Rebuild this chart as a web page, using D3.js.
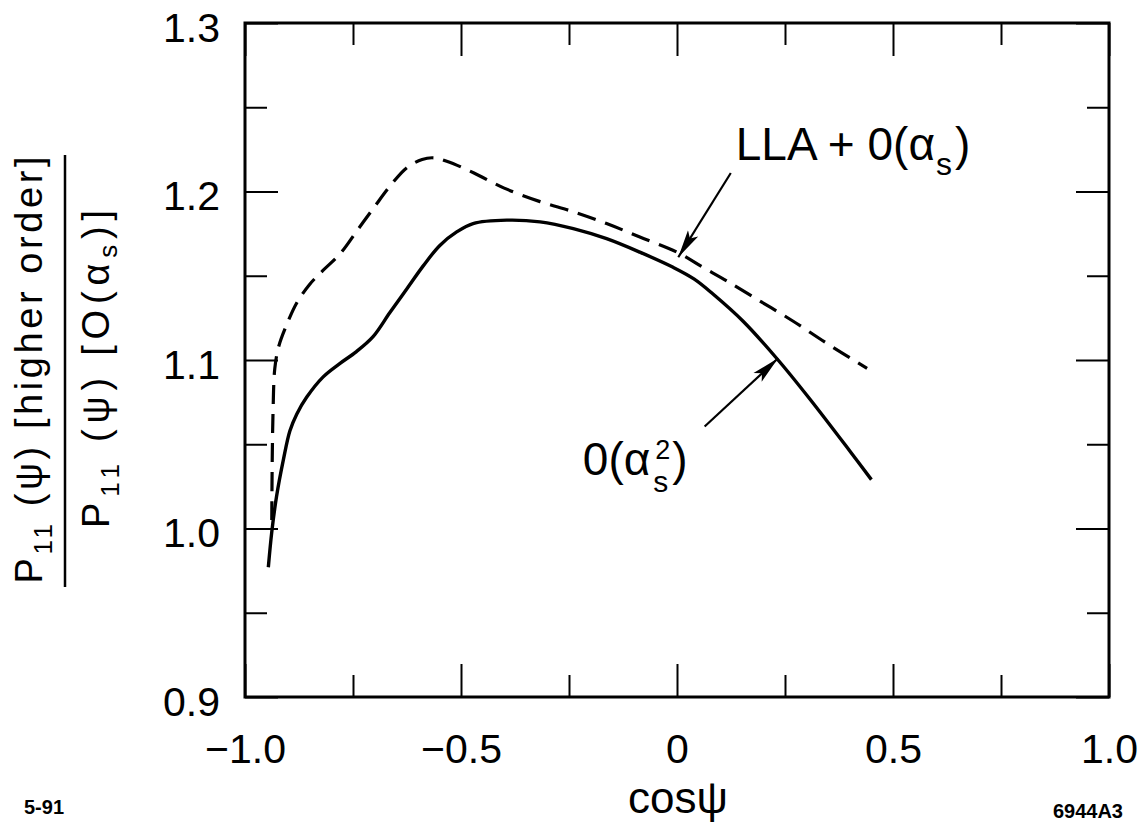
<!doctype html>
<html lang="en">
<head>
  <meta charset="utf-8">
  <title>P11 ratio vs cos psi</title>
  <style>
    body { margin: 0; background: #fff; }
    svg { display: block; font-family: "Liberation Sans", Arial, Helvetica, sans-serif; }
    .tick line { stroke: #000; stroke-width: 2px; }
    .tick text { font-size: 41px; fill: #000; }
    .domain { display: none; }
  </style>
</head>
<body>
<svg id="chart" width="1138" height="829"></svg>
<script src="https://d3js.org/d3.v7.min.js"></script>
<script>
// ---- data (cosψ, ratio) ----
const xMajorTicks = [-1, -0.5, 0, 0.5, 1];
const xMinorTicks = [-0.75, -0.25, 0.25, 0.75];
const yMajorTicks = [0.9, 1.0, 1.1, 1.2, 1.3];
const yMinorTicks = [0.95, 1.05, 1.15, 1.25];

// LLA + O(alpha_s), dashed
const llaX = [-0.938, -0.937, -0.935, -0.931, -0.922, -0.905, -0.88, -0.85, -0.82, -0.78,
  -0.74, -0.70, -0.665, -0.626, -0.59, -0.564, -0.533, -0.47, -0.40, -0.317,
  -0.24, -0.163, -0.086, 0.0, 0.06, 0.115, 0.192, 0.269, 0.346, 0.44];
const llaY = [1.005, 1.04, 1.07, 1.095, 1.108, 1.12, 1.134, 1.145, 1.153, 1.163,
  1.177, 1.191, 1.203, 1.214, 1.219, 1.220, 1.218, 1.211, 1.202, 1.194,
  1.188, 1.181, 1.173, 1.164, 1.155, 1.147, 1.135, 1.123, 1.110, 1.095];

// O(alpha_s^2), solid
const o2X = [-0.946, -0.938, -0.927, -0.911, -0.896, -0.88, -0.857, -0.819, -0.78, -0.742,
  -0.703, -0.665, -0.626, -0.587, -0.549, -0.51, -0.472, -0.394, -0.317, -0.24,
  -0.163, -0.086, -0.009, 0.04, 0.084, 0.153, 0.234, 0.307, 0.40, 0.45];
const o2Y = [0.977, 0.998, 1.019, 1.041, 1.058, 1.068, 1.078, 1.090, 1.098, 1.105,
  1.114, 1.128, 1.142, 1.156, 1.168, 1.176, 1.181, 1.183, 1.182, 1.178,
  1.172, 1.164, 1.155, 1.148, 1.139, 1.123, 1.100, 1.077, 1.046, 1.029];

// annotation arrows: [x0, y0, x1(tip), y1(tip)] in data units
const llaArrow = [0.1245, 1.211, 0.003, 1.161];
const o2Arrow = [0.064, 1.0605, 0.234, 1.101];
const llaLabelAt = [0.136, 1.2186];
const o2LabelAt = [-0.218, 1.032];

// ---- layout ----
const margin = { left: 245, top: 23, right: 29, bottom: 132 };
const W = 1138, H = 829;
const svg = d3.select("#chart");

const x = d3.scaleLinear().domain([-1, 1]).range([margin.left, W - margin.right]);
const y = d3.scaleLinear().domain([0.9, 1.3]).range([H - margin.bottom, margin.top]);

const fmtX = d => d === 0 ? "0" : d3.format(".1f")(d);
const fmtY = d3.format(".1f");

// ticks (all pointing inward)
const plotBottom = H - margin.bottom, plotTop = margin.top;
const plotLeft = margin.left, plotRight = W - margin.right;

svg.append("g").attr("transform", `translate(0,${plotBottom})`)
  .call(d3.axisBottom(x).tickValues(xMajorTicks).tickSize(-33).tickSizeOuter(0).tickPadding(37).tickFormat(fmtX));
svg.append("g").attr("transform", `translate(0,${plotBottom})`)
  .call(d3.axisBottom(x).tickValues(xMinorTicks).tickSize(-22).tickSizeOuter(0).tickFormat(""));
svg.append("g").attr("transform", `translate(0,${plotTop})`)
  .call(d3.axisTop(x).tickValues(xMajorTicks).tickSize(-33).tickSizeOuter(0).tickFormat(""));
svg.append("g").attr("transform", `translate(0,${plotTop})`)
  .call(d3.axisTop(x).tickValues(xMinorTicks).tickSize(-22).tickSizeOuter(0).tickFormat(""));

const yl = svg.append("g").attr("transform", `translate(${plotLeft},0)`)
  .call(d3.axisLeft(y).tickValues(yMajorTicks).tickSize(-33).tickSizeOuter(0).tickPadding(25).tickFormat(fmtY));
yl.selectAll(".tick text").attr("dy", "0.45em");
svg.append("g").attr("transform", `translate(${plotLeft},0)`)
  .call(d3.axisLeft(y).tickValues(yMinorTicks).tickSize(-22).tickSizeOuter(0).tickFormat(""));
svg.append("g").attr("transform", `translate(${plotRight},0)`)
  .call(d3.axisRight(y).tickValues(yMajorTicks).tickSize(-33).tickSizeOuter(0).tickFormat(""));
svg.append("g").attr("transform", `translate(${plotRight},0)`)
  .call(d3.axisRight(y).tickValues(yMinorTicks).tickSize(-22).tickSizeOuter(0).tickFormat(""));

svg.selectAll("g").attr("font-family", null).attr("font-size", null);

// frame
svg.append("rect")
  .attr("x", plotLeft).attr("y", plotTop)
  .attr("width", plotRight - plotLeft).attr("height", plotBottom - plotTop)
  .attr("fill", "none").attr("stroke", "#000").attr("stroke-width", 3);

// curves
const line = d3.line().x(d => x(d[0])).y(d => y(d[1])).curve(d3.curveCatmullRom.alpha(0.5));

svg.append("path")
  .datum(d3.zip(llaX, llaY))
  .attr("d", line)
  .attr("fill", "none").attr("stroke", "#000").attr("stroke-width", 3.2)
  .attr("stroke-dasharray", "19,10");

svg.append("path")
  .datum(d3.zip(o2X, o2Y))
  .attr("d", line)
  .attr("fill", "none").attr("stroke", "#000").attr("stroke-width", 3.4);

// arrows
svg.append("defs").append("marker")
  .attr("id", "head").attr("markerUnits", "userSpaceOnUse")
  .attr("viewBox", "0 -7 28 14").attr("refX", 28).attr("refY", 0)
  .attr("markerWidth", 28).attr("markerHeight", 14).attr("orient", "auto")
  .append("path").attr("d", "M0,-6L28,0L0,6L6,0Z").attr("fill", "#000");

[llaArrow, o2Arrow].forEach(a => {
  svg.append("line")
    .attr("x1", x(a[0])).attr("y1", y(a[1]))
    .attr("x2", x(a[2])).attr("y2", y(a[3]))
    .attr("stroke", "#000").attr("stroke-width", 2.2)
    .attr("marker-end", "url(#head)");
});

// LLA + 0(αs) label
const lla = svg.append("text")
  .attr("x", x(llaLabelAt[0])).attr("y", y(llaLabelAt[1]))
  .attr("font-size", 46).attr("fill", "#000");
lla.append("tspan").text("LLA + 0(α");
lla.append("tspan").attr("font-size", 32).attr("dy", 15).attr("dx", 1).text("s");
lla.append("tspan").attr("dy", -15).attr("dx", 3).text(")");

// 0(α²s) label with stacked super/subscript
const o2g = svg.append("g")
  .attr("transform", `translate(${x(o2LabelAt[0])},${y(o2LabelAt[1])})`)
  .attr("fill", "#000");
const o2main = o2g.append("text").attr("font-size", 46).text("0(α");
const w1 = o2main.node().getComputedTextLength();
const sup = o2g.append("text").attr("x", w1 + 5).attr("y", -16).attr("font-size", 27).text("2");
const sub = o2g.append("text").attr("x", w1 + 3).attr("y", 17).attr("font-size", 30).text("s");
const w2 = Math.max(sup.node().getComputedTextLength(), sub.node().getComputedTextLength());
o2g.append("text").attr("x", w1 + w2 + 7).attr("font-size", 46).text(")");

// x-axis title
svg.append("text")
  .attr("x", 678).attr("y", 813)
  .attr("text-anchor", "middle").attr("font-size", 44).attr("fill", "#000")
  .text("cosψ");

// y-axis title (fraction)
const num = svg.append("text")
  .attr("transform", "translate(42,370) rotate(-90)")
  .attr("text-anchor", "middle").attr("font-size", 38).attr("fill", "#000")
  .attr("textLength", 427).attr("lengthAdjust", "spacing");
num.append("tspan").text("P");
num.append("tspan").attr("font-size", 26).attr("dy", 10).text("11");
num.append("tspan").attr("dy", -10).text(" (ψ) [higher order]");

svg.append("line")
  .attr("x1", 65).attr("x2", 65).attr("y1", 155).attr("y2", 587)
  .attr("stroke", "#000").attr("stroke-width", 2.5);

const den = svg.append("text")
  .attr("transform", "translate(109,369) rotate(-90)")
  .attr("text-anchor", "middle").attr("font-size", 38).attr("fill", "#000")
  .attr("textLength", 318).attr("lengthAdjust", "spacing");
den.append("tspan").text("P");
den.append("tspan").attr("font-size", 26).attr("dy", 10).text("11");
den.append("tspan").attr("dy", -10).text(" (ψ)  [O(α");
den.append("tspan").attr("font-size", 26).attr("dy", 8).text("s");
den.append("tspan").attr("dy", -8).text(")]");

// corner notes
svg.append("text").attr("x", 24).attr("y", 814)
  .attr("font-size", 20).attr("font-weight", "bold").attr("fill", "#000").text("5-91");
svg.append("text").attr("x", 1123).attr("y", 818).attr("text-anchor", "end")
  .attr("font-size", 20).attr("font-weight", "bold").attr("fill", "#000").text("6944A3");
</script>
</body>
</html>
